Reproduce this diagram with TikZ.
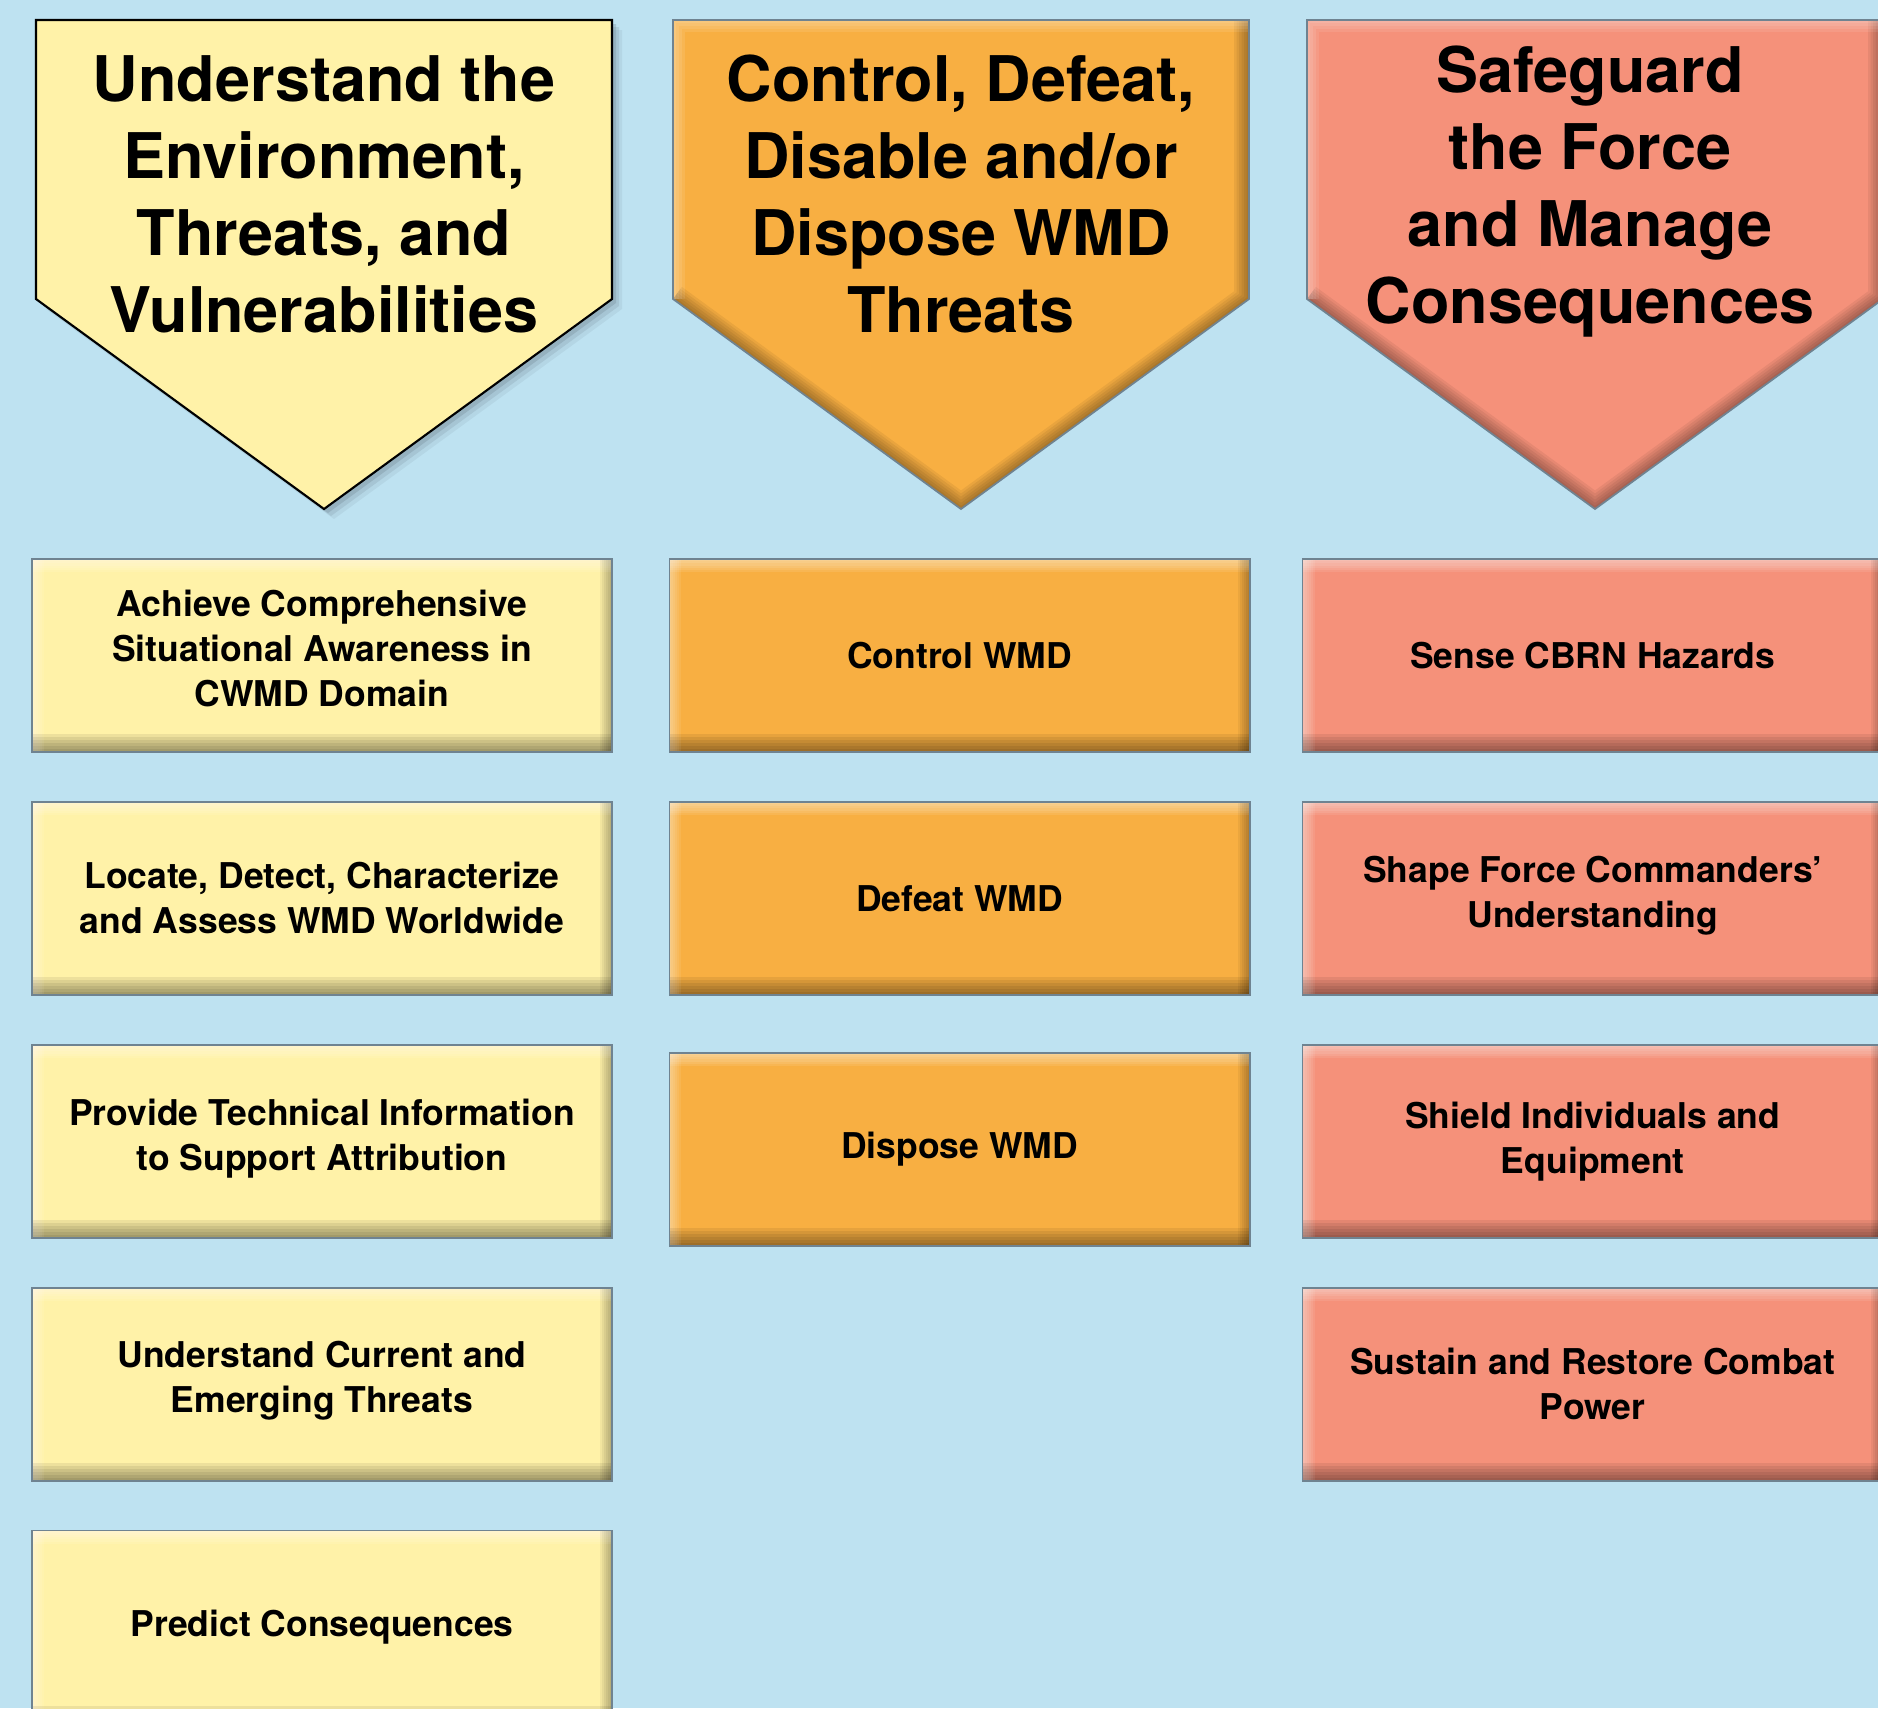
\documentclass[tikz,border=0pt]{standalone}
\usepackage{fontspec}
\setmainfont{TeX Gyre Heros}
\usetikzlibrary{positioning,calc}
\definecolor{skyback}{HTML}{BEE2F1}
\definecolor{paleyellow}{HTML}{FFF2A8}
\definecolor{amber}{HTML}{F8AF42}
\definecolor{salmon}{HTML}{F5917A}
\definecolor{rimgrey}{HTML}{6F8391}
\tikzset{
    task/.style={
        rectangle,
        draw=rimgrey,
        line width=0.5pt,
        fill=#1,
        minimum width=5.8cm,
        minimum height=1.93cm,
        align=center,
        font=\bfseries\fontsize{10.1}{12.8}\selectfont,
        path picture={
            \foreach \d in {1,...,6} {
                \fill[white, opacity=0.08] (path picture bounding box.south west) rectangle ([xshift=\d*0.02cm]path picture bounding box.north west);
                \fill[white, opacity=0.09] (path picture bounding box.north west) rectangle ([yshift=-\d*0.022cm]path picture bounding box.north east);
                \fill[black, opacity=0.05] ([xshift=-\d*0.02cm]path picture bounding box.south east) rectangle (path picture bounding box.north east);
                \fill[black, opacity=0.07] ([yshift=\d*0.03cm]path picture bounding box.south west) rectangle (path picture bounding box.south east);
            }
        }
    },
    multi/.style={text depth=0.14cm},
    heading/.style={
        align=center,
        font=\bfseries\fontsize{17.9}{21.9}\selectfont
    }
}

\begin{document}
\begin{tikzpicture}[x=0.01cm, y=-0.01cm]
    \useasboundingbox (0,0) rectangle (1878,1708);
    \fill[skyback] (0,0) rectangle (1878,1708);

    % first heading: outline and drop shadow
    \foreach \s/\o in {10/0.12, 7/0.2, 4/0.3}
        \fill[rimgrey, opacity=\o, shift={(\s,\s)}] (36,20) -- (612,20) -- (612,299) -- (324,509) -- (36,299) -- cycle;
    \fill[paleyellow, draw=black, line width=0.6pt] (36,20) -- (612,20) -- (612,299) -- (324,509) -- (36,299) -- cycle;

    % other headings: bevelled
    \foreach \cx/\col in {961/amber, 1595/salmon} {
        \begin{scope}
            \clip (\cx-288,20) -- (\cx+288,20) -- (\cx+288,299) -- (\cx,509) -- (\cx-288,299) -- cycle;
            \fill[\col] (\cx-288,20) rectangle (\cx+288,509);
            \foreach \w in {0.3,0.25,0.2,0.15,0.1,0.05}
                \draw[black, opacity=0.06, line width=\w cm] (\cx+288,20) -- (\cx+288,299) -- (\cx,509) -- (\cx-288,299);
            \foreach \w in {0.24,0.18,0.12,0.06} {
                \draw[white, opacity=0.09, line width=\w cm] (\cx-288,299) -- (\cx-288,20) -- (\cx+288,20);
            }
        \end{scope}
        \draw[rimgrey, line width=0.5pt] (\cx-288,20) -- (\cx+288,20) -- (\cx+288,299) -- (\cx,509) -- (\cx-288,299) -- cycle;
    }

    \node[heading] (hdA) at (324,194) {Understand the\\Environment,\\Threats, and\\Vulnerabilities};
    \node[heading] (hdB) at (961,194) {Control, Defeat,\\Disable and/or\\Dispose WMD\\Threats};
    \node[heading] (hdC) at (1590,192) {Safeguard\\the Force\\and Manage\\Consequences};

    % left column
    \node[task=paleyellow, multi] (a1) at (322,655.5) {Achieve Comprehensive\\Situational Awareness in\\CWMD Domain};
    \node[task=paleyellow, below=0.48cm of a1] (a2) {Locate, Detect, Characterize\\and Assess WMD Worldwide};
    \node[task=paleyellow, multi, below=0.48cm of a2] (a3) {Provide Technical Information\\to Support Attribution};
    \node[task=paleyellow, multi, below=0.48cm of a3] (a4) {Understand Current and\\Emerging Threats};
    \node[task=paleyellow, below=0.48cm of a4] (a5) {Predict Consequences};

    % middle column
    \node[task=amber, right=0.555cm of a1] (b1) {Control WMD};
    \node[task=amber, below=0.48cm of b1] (b2) {Defeat WMD};
    \node[task=amber, below=0.56cm of b2] (b3) {Dispose WMD};

    % right column
    \node[task=salmon, right=0.51cm of b1] (c1) {Sense CBRN Hazards};
    \node[task=salmon, multi, below=0.48cm of c1] (c2) {Shape Force Commanders'\\Understanding};
    \node[task=salmon, below=0.48cm of c2] (c3) {Shield Individuals and\\Equipment};
    \node[task=salmon, below=0.48cm of c3] (c4) {Sustain and Restore Combat\\Power};
\end{tikzpicture}
\end{document}
